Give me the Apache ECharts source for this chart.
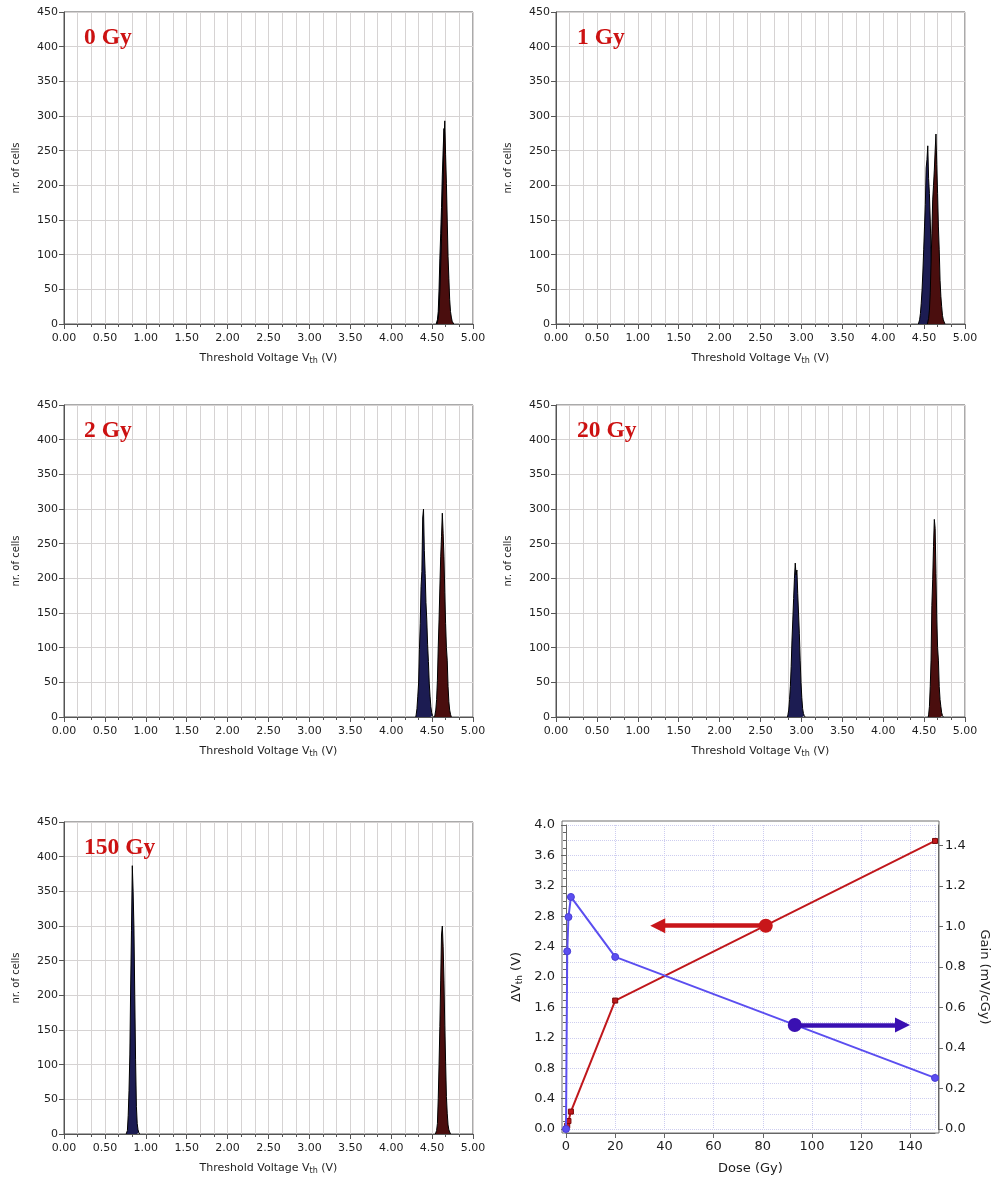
<!DOCTYPE html>
<html>
<head>
<meta charset="utf-8">
<script src="https://cdn.jsdelivr.net/npm/echarts@6/dist/echarts.min.js"></script>
<style>
  html, body { margin: 0; padding: 0; background: #fff; }
  #chart { width: 992px; height: 1177px; }
</style>
</head>
<body>
<div id="chart"></div>
<script>
// ---- Threshold-voltage histograms, bin width 0.01 V ----
// "irr" = irradiated cells (blue), "ref" = reference cells (red)
const BIN = 0.01;
const doseLabels = ['0 Gy', '1 Gy', '2 Gy', '20 Gy', '150 Gy'];

const irr0Start = 4.56;
const irr0Counts = [2, 6, 18, 50, 95, 130, 168, 215, 250, 282, 240, 198, 140, 92, 60, 30, 15, 8, 3, 1];
const ref0Start = 4.57;
const ref0Counts = [3, 8, 20, 47, 85, 123, 170, 207, 260, 293, 244, 203, 150, 97, 66, 35, 18, 10, 4, 2];

const irr1Start = 4.44;
const irr1Counts = [2, 6, 15, 30, 49, 75, 107, 140, 172, 225, 237, 257, 210, 188, 150, 107, 70, 42, 22, 10, 4, 1];
const ref1Start = 4.55;
const ref1Counts = [2, 8, 20, 45, 88, 130, 179, 200, 222, 250, 274, 230, 188, 140, 107, 63, 40, 25, 12, 6, 3];

const irr2Start = 4.31;
const irr2Counts = [3, 12, 30, 49, 97, 135, 188, 210, 287, 300, 240, 207, 165, 140, 105, 80, 49, 30, 15, 6, 2];
const ref2Start = 4.54;
const ref2Counts = [3, 10, 25, 53, 101, 140, 186, 231, 260, 294, 265, 231, 180, 135, 100, 82, 44, 22, 10, 4];

const irr20Start = 2.84;
const irr20Counts = [3, 10, 25, 44, 73, 111, 140, 171, 200, 222, 205, 212, 178, 150, 120, 82, 50, 28, 12, 5, 2];
const ref20Start = 4.56;
const ref20Counts = [3, 15, 44, 82, 161, 198, 246, 285, 272, 207, 140, 100, 82, 44, 25, 15, 6, 2];

const irr150Start = 0.77;
const irr150Counts = [1, 5, 27, 63, 114, 212, 294, 387, 350, 297, 200, 107, 40, 15, 6, 2];
const ref150Start = 4.55;
const ref150Counts = [2, 5, 15, 51, 100, 155, 222, 287, 300, 270, 222, 157, 104, 54, 30, 13, 6, 3];

const histX = { min: 0, max: 5, step: 0.5 };
const histY = { min: 0, max: 450, step: 50 };

// ---- Shift and sensitivity versus dose ----
const doseGy = [0, 0.5, 1, 2, 20, 150];
const deltaVth = [0, 0.044, 0.105, 0.229, 1.69, 3.79];      // V
const gainMvPerCGy = [0, 0.877, 1.046, 1.145, 0.849, 0.252]; // mV/cGy
const doseTicks = { min: 0, max: 150, step: 20 };
const dvTicks = { min: 0, max: 4, step: 0.4 };
const gainTicks = { min: 0, max: 1.5, step: 0.2 };

// axis-reading arrows: [dose, value] tail dot and head
const dvArrow = [[81.2, 2.675], [37.3, 2.675]];
const gainArrow = [[93, 0.513], [136.8, 0.513]];

// ---------------------------------------------------------
const FONT = 'DejaVu Sans';
const TXT = '#1e1e1e';
const AX = '#555';
const GRIDC = '#d6d3d3';
const BLUE_FILL = '#1c1c52';
const RED_FILL = '#4a0e0e';

const panels = [
  { irr: [irr0Start, irr0Counts], ref: [ref0Start, ref0Counts] },
  { irr: [irr1Start, irr1Counts], ref: [ref1Start, ref1Counts] },
  { irr: [irr2Start, irr2Counts], ref: [ref2Start, ref2Counts] },
  { irr: [irr20Start, irr20Counts], ref: [ref20Start, ref20Counts] },
  { irr: [irr150Start, irr150Counts], ref: [ref150Start, ref150Counts] }
];

const histGrids = [
  { left: 64, top: 12 }, { left: 556, top: 12 },
  { left: 64, top: 405 }, { left: 556, top: 405 },
  { left: 64, top: 822 }
];

// histogram outline points: bin centres plus empty neighbours at both ends
function histPoints(start, counts) {
  const pts = [[+(start - BIN).toFixed(3), 0]];
  counts.forEach((c, i) => pts.push([+(start + i * BIN).toFixed(3), c]));
  pts.push([+(start + counts.length * BIN).toFixed(3), 0]);
  return pts;
}

const grids = histGrids.map(g => ({
  left: g.left, top: g.top, width: 409, height: 312,
  show: true, borderColor: AX, borderWidth: 1, backgroundColor: '#fff'
}));
// dose-response panel: data area and its surrounding frame
grids.push({ left: 566, top: 825, width: 370, height: 304 });
grids.push({ left: 562, top: 821, width: 377, height: 312, show: true, borderColor: '#6e6e6e', borderWidth: 1 });

const xAxes = [];
const yAxes = [];
const series = [];
const titles = [];

const titlePos = [[84, 26], [577, 26], [84, 419], [577, 419], [84, 836]];

panels.forEach((p, i) => {
  xAxes.push({
    type: 'value', gridIndex: i, min: histX.min, max: histX.max, interval: histX.step,
    axisLine: { show: true, onZero: false, lineStyle: { color: AX, width: 1 } },
    axisTick: { show: true, length: 5, lineStyle: { color: AX } },
    minorTick: { show: true, splitNumber: 3, length: 3, lineStyle: { color: AX } },
    splitLine: { show: true, lineStyle: { color: GRIDC, width: 1 } },
    minorSplitLine: { show: true, lineStyle: { color: GRIDC, width: 1 } },
    axisLabel: { fontFamily: FONT, fontSize: 11, color: TXT, margin: 9, formatter: v => v.toFixed(2) },
    name: '{n|Threshold Voltage V}{s|th}{n| (V)}',
    nameLocation: 'middle', nameGap: 27,
    nameTextStyle: {
      rich: {
        n: { fontFamily: FONT, fontSize: 11, color: TXT, lineHeight: 14 },
        s: { fontFamily: FONT, fontSize: 8, color: TXT, lineHeight: 14, padding: [6, 0, 0, 0] }
      }
    }
  });
  yAxes.push({
    type: 'value', gridIndex: i, min: histY.min, max: histY.max, interval: histY.step,
    axisLine: { show: true, lineStyle: { color: AX, width: 1 } },
    axisTick: { show: true, length: 5, lineStyle: { color: AX } },
    splitLine: { show: true, lineStyle: { color: GRIDC, width: 1 } },
    axisLabel: { fontFamily: FONT, fontSize: 11, color: TXT, margin: 6 },
    name: 'nr. of cells', nameLocation: 'middle', nameGap: 43, nameRotate: 90,
    nameTextStyle: { fontFamily: FONT, fontSize: 10, color: TXT }
  });
  [['irr', BLUE_FILL], ['ref', RED_FILL]].forEach(([key, fill], k) => {
    series.push({
      type: 'line', xAxisIndex: i, yAxisIndex: i, step: 'middle',
      data: histPoints(p[key][0], p[key][1]),
      symbol: 'none', silent: true, z: 3 + k,
      lineStyle: { color: '#000', width: 1 },
      areaStyle: { color: fill, opacity: 1 }
    });
  });
  titles.push({
    text: doseLabels[i], left: titlePos[i][0], top: titlePos[i][1], padding: 0,
    textStyle: { fontFamily: 'Liberation Serif', fontWeight: 'bold', fontSize: 23.5, color: '#cc1212' }
  });
});

// dose-response axes
const DG = 5;
xAxes.push({
  type: 'value', gridIndex: DG, min: doseTicks.min, max: doseTicks.max, interval: doseTicks.step,
  offset: 4,
  axisLine: { show: true, onZero: false, lineStyle: { color: '#666' } },
  axisTick: { show: true, length: 5, lineStyle: { color: '#666' } },
  splitLine: { show: true, lineStyle: { color: '#cdcdf0', type: 'dotted', width: 1 } },
  axisLabel: { fontFamily: FONT, fontSize: 13, color: TXT, margin: 7, showMaxLabel: false },
  name: 'Dose (Gy)', nameLocation: 'middle', nameGap: 29,
  nameTextStyle: { fontFamily: FONT, fontSize: 13, color: TXT }
});
xAxes.push({ type: 'value', gridIndex: 6, show: false, min: 0, max: 1 });

yAxes.push({
  type: 'value', gridIndex: DG, position: 'left', min: dvTicks.min, max: dvTicks.max, interval: dvTicks.step,
  offset: 4,
  axisLine: { show: true, lineStyle: { color: '#666' } },
  axisTick: { show: true, length: 5, lineStyle: { color: '#666' } },
  minorTick: { show: true, splitNumber: 4, length: 3, lineStyle: { color: '#666' } },
  splitLine: { show: false },
  axisLabel: { fontFamily: FONT, fontSize: 13, color: TXT, margin: 7, formatter: v => v.toFixed(1) },
  name: '{n|ΔV}{s|th}{n| (V)}', nameLocation: 'middle', nameGap: 37, nameRotate: 90,
  nameTextStyle: {
    rich: {
      n: { fontFamily: FONT, fontSize: 13, color: TXT, lineHeight: 16 },
      s: { fontFamily: FONT, fontSize: 9, color: TXT, lineHeight: 16, padding: [6, 0, 0, 0] }
    }
  }
});
yAxes.push({
  type: 'value', gridIndex: DG, position: 'right', min: gainTicks.min, max: gainTicks.max, interval: gainTicks.step,
  offset: 3,
  axisLine: { show: true, lineStyle: { color: '#666' } },
  axisTick: { show: true, length: 5, lineStyle: { color: '#666' } },
  splitLine: { show: false },
  axisLabel: { fontFamily: FONT, fontSize: 13, color: TXT, margin: 7, showMaxLabel: false, formatter: v => v.toFixed(1) },
  name: 'Gain (mV/cGy)', nameLocation: 'middle', nameGap: 40, nameRotate: -90,
  nameTextStyle: { fontFamily: FONT, fontSize: 13, color: TXT }
});
// fine horizontal guide lines every 0.2 V
yAxes.push({
  type: 'value', gridIndex: DG, position: 'left', min: dvTicks.min, max: dvTicks.max, interval: dvTicks.step / 2,
  axisLine: { show: false }, axisTick: { show: false }, axisLabel: { show: false },
  splitLine: { show: true, lineStyle: { color: '#cdcdf0', type: 'dotted', width: 1 } }
});
yAxes.push({ type: 'value', gridIndex: 6, show: false, min: 0, max: 1 });

series.push({
  type: 'line', xAxisIndex: 5, yAxisIndex: 5, z: 5,
  data: doseGy.map((d, i) => [d, deltaVth[i]]),
  symbol: 'rect', symbolSize: 5,
  lineStyle: { color: '#c0171c', width: 2 },
  itemStyle: { color: '#c0171c', borderColor: '#7a0a0a', borderWidth: 1 }
});
series.push({
  type: 'line', xAxisIndex: 5, yAxisIndex: 6, z: 6,
  data: doseGy.map((d, i) => [d, gainMvPerCGy[i]]),
  symbol: 'circle', symbolSize: 7,
  lineStyle: { color: '#5b4ef0', width: 2 },
  itemStyle: { color: '#5b4ef0', borderColor: '#4a3ed8', borderWidth: 1 }
});
series.push({
  type: 'lines', coordinateSystem: 'cartesian2d', xAxisIndex: 5, yAxisIndex: 5, z: 7,
  symbol: ['circle', 'triangle'], symbolSize: [14, 15],
  lineStyle: { color: '#c8161a', width: 4.5, opacity: 1, curveness: 0 },
  itemStyle: { color: '#c8161a' },
  data: [{ coords: dvArrow }]
});
series.push({
  type: 'lines', coordinateSystem: 'cartesian2d', xAxisIndex: 5, yAxisIndex: 6, z: 7,
  symbol: ['circle', 'triangle'], symbolSize: [14, 15],
  lineStyle: { color: '#3a10b2', width: 4.5, opacity: 1, curveness: 0 },
  itemStyle: { color: '#3a10b2' },
  data: [{ coords: gainArrow }]
});

const chart = echarts.init(document.getElementById('chart'), null, { renderer: 'canvas' });
chart.setOption({
  animation: false,
  backgroundColor: '#fff',
  title: titles,
  grid: grids,
  xAxis: xAxes,
  yAxis: yAxes,
  series: series
});
</script>
</body>
</html>
